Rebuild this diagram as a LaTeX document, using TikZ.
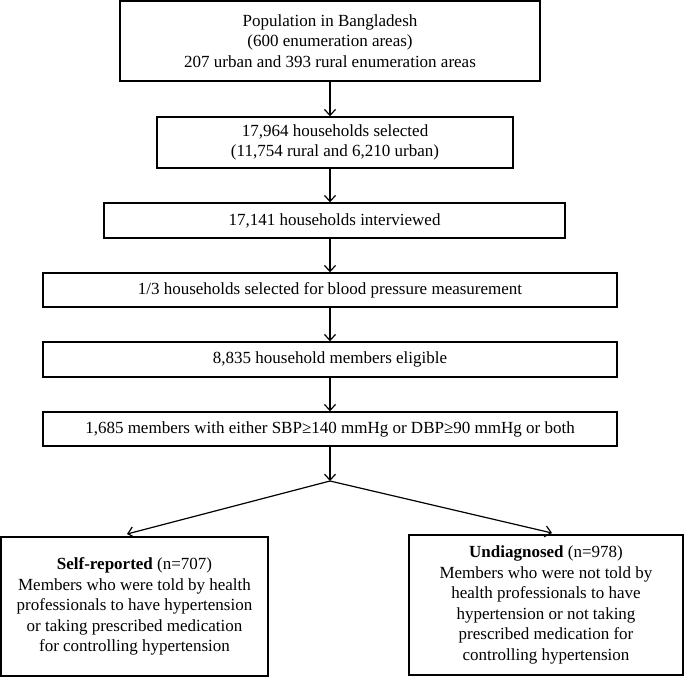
\documentclass[tikz,border=0pt]{standalone}
\usepackage{fontspec}
\setmainfont{Liberation Serif}
\usetikzlibrary{arrows.meta}
\begin{document}
\begin{tikzpicture}[x=1pt,y=-1pt,
  box/.style={draw=black,line width=1.4pt,align=center,inner sep=0pt,
    font=\fontsize{17}{20.5}\selectfont},
  arr/.style={line width=1.2pt,-{Straight Barb[length=6pt,width=11pt,line width=1.2pt]}},
  link/.style={line width=1.2pt}]
\useasboundingbox (0,0) rectangle (685,677);
\node[box,minimum width=420,minimum height=80] (b1) at (330,41)
  {Population in Bangladesh\\(600 enumeration areas)\\207 urban and 393 rural enumeration areas};
\node[box,minimum width=356,minimum height=51] (b2) at (335,142.5)
  {17,964 households selected\\(11,754 rural and 6,210 urban)};
\node[box,minimum width=461,minimum height=35] (b3) at (334.5,220.5)
  {17,141 households interviewed};
\node[box,minimum width=574,minimum height=34] (b4) at (330,290)
  {1/3 households selected for blood pressure measurement};
\node[box,minimum width=574,minimum height=35] (b5) at (330,359.5)
  {8,835 household members eligible};
\node[box,minimum width=574,minimum height=34] (b6) at (330,429)
  {1,685 members with either SBP≥140 mmHg or DBP≥90 mmHg or both};
\node[box,minimum width=267,minimum height=139] (sr) at (134.5,606.5)
  {\textbf{Self-reported} (n=707)\\Members who were told by health\\professionals to have hypertension\\or taking prescribed medication\\for controlling hypertension};
\node[box,minimum width=274,minimum height=140] (ud) at (546,605)
  {\textbf{Undiagnosed} (n=978)\\Members who were not told by\\health professionals to have\\hypertension or not taking\\prescribed medication for\\controlling hypertension};
\coordinate (apex) at (330,481);
\coordinate (lt) at (127,534);
\coordinate (rt) at (552,533);
\draw[arr] (b1.south) -- (b1.south |- b2.north);
\draw[arr] (b1.south |- b2.south) -- (b1.south |- b3.north);
\draw[arr] (b1.south |- b3.south) -- (b1.south |- b4.north);
\draw[arr] (b4.south) -- (b5.north);
\draw[arr] (b5.south) -- (b6.north);
\draw[arr] (b6.south) -- (apex);
\draw[arr] (apex) -- (lt);
\draw[arr] (apex) -- (rt);
\end{tikzpicture}
\end{document}
